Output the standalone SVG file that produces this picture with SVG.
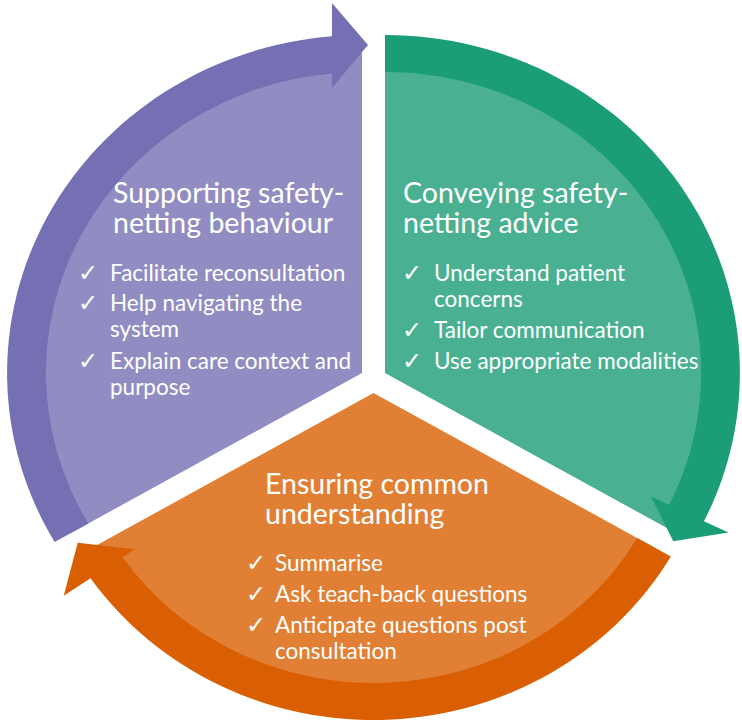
<svg xmlns="http://www.w3.org/2000/svg" width="742" height="723" viewBox="0 0 742 723">
<style>
.title{font-family:Lato,"Open Sans","Liberation Sans",sans-serif;font-weight:400;font-size:28.5px;fill:#ffffff}
.item{font-family:Lato,"Open Sans","Liberation Sans",sans-serif;font-weight:400;font-size:22.5px;fill:#ffffff}
.chk{font-family:"DejaVu Sans",sans-serif;font-size:24px;fill:#ffffff}
.pf{fill:#918dc2}.pb{fill:#7570b3}
.gf{fill:#49b192}.gb{fill:#1b9e77}
.of{fill:#e17f35}.ob{fill:#d95f02}
</style>
<rect width="742" height="723" fill="#ffffff"/>
<g id="node-supporting">
  <path class="pf" transform="translate(362,373) scale(1.05,1)" d="M0,0 L-277.13,160 A320,320 0 0 1 0,-320 Z"/>
  <text class="title" x="113" y="203">Supporting safety-</text>
  <text class="title" x="113" y="233">netting behaviour</text>
  <text class="chk" x="78" y="281">✓</text>
  <text class="item" x="110" y="281">Facilitate reconsultation</text>
  <text class="chk" x="78" y="311">✓</text>
  <text class="item" x="110" y="311">Help navigating the</text>
  <text class="item" x="110" y="337">system</text>
  <text class="chk" x="78" y="369">✓</text>
  <text class="item" x="110" y="369">Explain care context and</text>
  <text class="item" x="110" y="395">purpose</text>
</g>
<g id="node-conveying">
  <path class="gf" transform="translate(385,373) scale(1.05,1)" d="M0,0 L0,-320 A320,320 0 0 1 277.13,160 Z"/>
  <text class="title" x="403" y="203">Conveying safety-</text>
  <text class="title" x="403" y="233">netting advice</text>
  <text class="chk" x="402" y="281">✓</text>
  <text class="item" x="434" y="281">Understand patient</text>
  <text class="item" x="434" y="307">concerns</text>
  <text class="chk" x="402" y="338">✓</text>
  <text class="item" x="434" y="338">Tailor communication</text>
  <text class="chk" x="402" y="369">✓</text>
  <text class="item" x="434" y="369">Use appropriate modalities</text>
</g>
<g id="node-ensuring">
  <path class="of" transform="translate(373.5,393) scale(1.05,1)" d="M0,0 L267.6,154.5 A309,309 0 0 1 -267.6,154.5 Z"/>
  <text class="title" x="265" y="494">Ensuring common</text>
  <text class="title" x="265" y="524">understanding</text>
  <text class="chk" x="246" y="571">✓</text>
  <text class="item" x="275" y="571">Summarise</text>
  <text class="chk" x="246" y="602">✓</text>
  <text class="item" x="275" y="602">Ask teach-back questions</text>
  <text class="chk" x="246" y="633">✓</text>
  <text class="item" x="275" y="633">Anticipate questions post</text>
  <text class="item" x="275" y="659">consultation</text>
</g>
<g id="connectors">
  <path class="pb" transform="translate(362,373) scale(1.05,1)" d="M-292.72,169 A338,338 0 0 1 -28.6,-336.8 L-28.6,-370 L5.72,-327.95 L-28.6,-285 L-28.6,-299.6 A301,301 0 0 0 -260.67,150.5 Z"/>
  <path class="gb" transform="translate(385,373) scale(1.05,1)" d="M0,-338 A338,338 0 0 1 303.79,148.17 L327.16,159.57 L274.55,168.24 L253.46,123.62 L270.54,131.95 A301,301 0 0 0 0,-301 Z"/>
  <path class="ob" transform="translate(373.5,393) scale(1.05,1)" d="M283.19,163.5 A327,327 0 0 1 -269.49,185.22 L-295.04,202.77 L-281.66,149.76 L-227.46,156.33 L-239.0,164.26 A290,290 0 0 0 251.15,145 Z"/>
</g>
</svg>
